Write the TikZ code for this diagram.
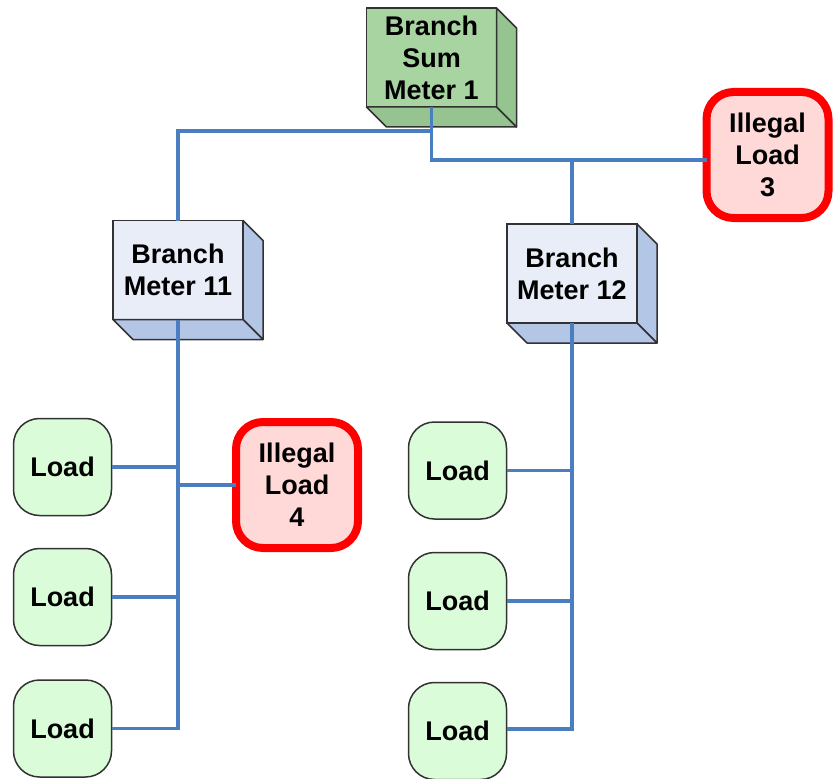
\documentclass[tikz,border=0pt]{standalone}
\usepackage{fontspec}
\setmainfont{Liberation Sans}
\usetikzlibrary{calc, positioning}
\definecolor{wireblue}{RGB}{74, 126, 193}
\definecolor{edgegray}{RGB}{50, 50, 50}
\definecolor{sumfront}{RGB}{168, 212, 162}
\definecolor{sumside}{RGB}{150, 196, 144}
\definecolor{meterfront}{RGB}{232, 237, 248}
\definecolor{meterside}{RGB}{180, 198, 230}
\definecolor{loadgreen}{RGB}{218, 252, 217}
\definecolor{illred}{RGB}{255, 0, 0}
\definecolor{illpink}{RGB}{255, 216, 216}

\begin{document}
\begin{tikzpicture}[x=1pt, y=-1pt,
  cube/.style={draw=edgegray, line width=1.5pt, minimum width=130pt, minimum height=99pt, inner sep=0pt, outer sep=0pt, align=center, font=\bfseries\fontsize{27}{32}\selectfont},
  face/.style={draw=edgegray, line width=1.5pt, line join=round},
  load/.style={draw=edgegray, line width=1.5pt, fill=loadgreen, rounded corners=26pt, minimum width=98pt, minimum height=97pt, inner sep=0pt, outer sep=0pt, font=\bfseries\fontsize{27}{32}\selectfont},
  illegal/.style={draw=illred, line width=8pt, fill=illpink, rounded corners=27pt, minimum width=122pt, minimum height=126pt, inner sep=0pt, outer sep=0pt, align=center, font=\bfseries\fontsize{27}{32}\selectfont},
  wire/.style={draw=wireblue, line width=3.5pt}
]
  \useasboundingbox (0,0) rectangle (834,778);

  % meters
  \node[cube, fill=sumfront] (sum) at (431.5,57.5) {Branch\\Sum\\Meter 1};
  \node[cube, fill=meterfront] (m11) at (178,270) {Branch\\Meter 11};
  \node[cube, fill=meterfront] (m12) at (572,273.5) {Branch\\Meter 12};
  \foreach \n/\c in {sum/sumside, m11/meterside, m12/meterside} {
    \draw[face, fill=\c] (\n.north east) -- ++(20,20) -- ($(\n.south east)+(20,20)$) -- (\n.south east) -- cycle;
    \draw[face, fill=\c] (\n.south west) -- ++(20,20) -- ($(\n.south east)+(20,20)$) -- (\n.south east) -- cycle;
  }

  % loads
  \node[illegal] (ill3) at (767.5,155) {Illegal\\Load\\3};
  \node[illegal] (ill4) at (297,485) {Illegal\\Load\\4};
  \node[load] (load11) at (62.5,467) {Load};
  \node[load] (load12) at (62.5,597) {Load};
  \node[load] (load13) at (62.5,728.5) {Load};
  \node[load] (load21) at (457.5,470.5) {Load};
  \node[load] (load22) at (457.5,601) {Load};
  \node[load] (load23) at (457.5,731) {Load};

  % wiring
  \coordinate (split) at (431.5,131);
  \coordinate (tap) at (431.5,160);
  \draw[wire] (sum.south) |- ([yshift=-5pt]ill3.west);
  \draw[wire] (split) -| (m11.north);
  \draw[wire] (m12.north) -- (m12.north |- tap);
  \draw[wire] (m11.south) |- (load13.east);
  \draw[wire] (load11.east) -- (load11.east -| m11.south);
  \draw[wire] (load12.east) -- (load12.east -| m11.south);
  \draw[wire] (ill4.west) -- (ill4.west -| m11.south);
  \draw[wire] (m12.south) |- ([yshift=2pt]load23.east);
  \draw[wire] (load21.east) -- (load21.east -| m12.south);
  \draw[wire] (load22.east) -- (load22.east -| m12.south);
\end{tikzpicture}
\end{document}
